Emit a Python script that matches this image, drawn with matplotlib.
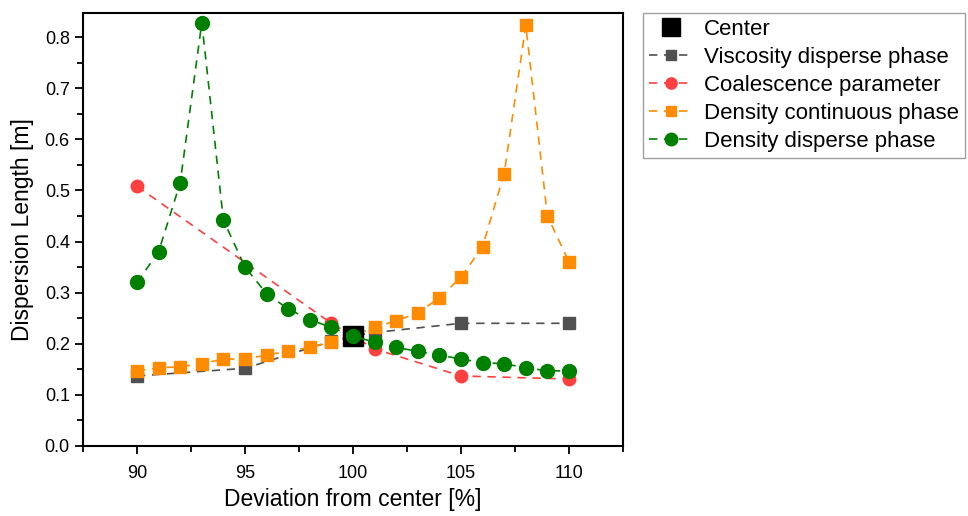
import matplotlib
matplotlib.use("Agg")
import matplotlib.pyplot as plt
from matplotlib.ticker import MultipleLocator

plt.rcParams['font.family'] = ['Liberation Sans', 'DejaVu Sans']

visc_x = [90, 95, 99, 100, 101, 105, 110]
visc_y = [0.137, 0.152, 0.205, 0.215, 0.222, 0.240, 0.240]

coal_x = [90, 99, 100, 101, 105, 110]
coal_y = [0.508, 0.240, 0.215, 0.190, 0.137, 0.131]

dens_x = list(range(90, 111))
dcont_y = [0.147, 0.153, 0.155, 0.161, 0.170, 0.170, 0.178, 0.185, 0.193, 0.203, 0.215,
           0.232, 0.245, 0.260, 0.290, 0.330, 0.390, 0.533, 0.823, 0.450, 0.360]
ddisp_y = [0.320, 0.380, 0.515, 0.828, 0.442, 0.350, 0.298, 0.268, 0.247, 0.232, 0.215,
           0.203, 0.193, 0.185, 0.178, 0.170, 0.163, 0.161, 0.153, 0.147, 0.147]

center_x = [100]
center_y = [0.215]

fig = plt.figure(figsize=(9.68, 5.16), dpi=100)
ax = fig.add_axes([83/968, 1-446/516, (623-83)/968, (446-13)/516])

ax.plot(center_x, center_y, 's', color='black', markersize=15, label='Center', zorder=5)
ax.plot(visc_x, visc_y, '--s', color='#505050', markersize=8, lw=1.2, dashes=(5, 4),
        label='Viscosity disperse phase', zorder=2)
ax.plot(coal_x, coal_y, '--o', color='#ff4040', markersize=9, lw=1.2, dashes=(5, 4),
        label='Coalescence parameter', zorder=3)
ax.plot(dens_x, dcont_y, '--s', color='#ff8c00', markersize=8, lw=1.2, dashes=(5, 4),
        label='Density continuous phase', zorder=4)
ax.plot(dens_x, ddisp_y, '--o', color='#008000', markersize=10, lw=1.2, dashes=(5, 4),
        label='Density disperse phase', zorder=6)

ax.set_xlim(87.5, 112.5)
ax.set_ylim(0, 0.847)
ax.xaxis.set_major_locator(MultipleLocator(5))
ax.xaxis.set_minor_locator(MultipleLocator(2.5))
ax.yaxis.set_major_locator(MultipleLocator(0.1))
ax.yaxis.set_minor_locator(MultipleLocator(0.05))
ax.yaxis.set_major_formatter(matplotlib.ticker.FormatStrFormatter('%.1f'))
ax.tick_params(which='major', direction='out', length=6, width=1.3, labelsize=13)
ax.tick_params(which='minor', direction='out', length=4, width=1.3)
ax.tick_params(axis='x', which='major', pad=8)
for s in ax.spines.values():
    s.set_linewidth(1.5)

ax.set_xlabel('Deviation from center [%]', fontsize=16.5, labelpad=4)
ax.set_ylabel('Dispersion Length [m]', fontsize=16.5, labelpad=8)

leg = fig.legend(loc='upper left', bbox_to_anchor=(643/968, 1-13/516), borderaxespad=0,
                 fontsize=16, handlelength=2.0, frameon=True, fancybox=False,
                 edgecolor='#888888', labelspacing=0.32, borderpad=0.25, handletextpad=0.5,
                 markerscale=0.9)
leg.get_frame().set_linewidth(1.0)

fig.savefig('out.png', dpi=100)
